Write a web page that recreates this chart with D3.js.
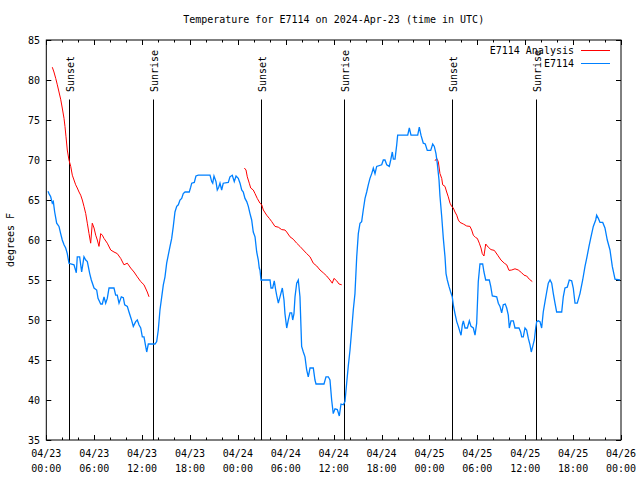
<!DOCTYPE html>
<html><head><meta charset="utf-8">
<script src="https://cdn.jsdelivr.net/npm/d3@7"></script>
<style>
html,body{margin:0;padding:0;background:#fff;}
svg text{font-family:"DejaVu Sans Mono","Liberation Mono",monospace;font-size:10px;fill:#000;}
</style></head><body>
<svg id="c" width="640" height="480"></svg>
<script>
// ---- data (hours after 2024-04-23 00:00 UTC, degrees F) ----
const title = "Temperature for E7114 on 2024-Apr-23 (time in UTC)";
const yTicks = [35,40,45,50,55,60,65,70,75,80,85];
const obsHours = [0.21,0.34,0.55,0.75,0.88,1.05,1.30,1.59,1.80,2.00,2.22,2.43,2.63,2.84,3.06,3.47,3.76,3.88,4.18,4.43,4.72,4.94,5.14,5.44,5.64,5.98,6.31,6.48,6.82,7.02,7.23,7.44,7.64,7.86,8.48,8.69,8.89,9.11,9.40,9.65,9.82,10.15,10.36,10.65,10.90,11.20,11.40,11.61,11.83,12.03,12.24,12.45,12.58,12.78,13.62,13.83,14.03,14.24,14.46,14.66,14.87,15.08,15.28,15.50,15.71,15.91,16.12,16.34,16.54,16.75,16.96,17.16,17.38,17.91,18.09,18.22,18.54,18.75,19.04,20.51,20.72,20.85,21.01,21.26,21.42,21.60,21.76,21.97,22.17,22.80,23.01,23.30,23.55,23.77,24.05,24.27,24.48,24.68,24.89,25.11,25.31,25.52,25.73,25.93,26.15,26.36,26.56,26.68,26.77,26.90,28.03,28.15,28.36,28.56,28.74,28.86,29.07,29.28,29.57,29.78,29.90,30.12,30.32,30.53,30.74,30.87,31.03,31.16,31.37,31.57,31.78,31.99,32.20,32.41,32.62,32.82,33.04,33.45,33.66,33.79,34.79,35.04,35.33,35.54,35.75,35.95,36.17,36.46,36.71,36.92,37.21,37.42,37.63,37.83,38.05,38.26,38.46,38.67,38.89,39.09,39.30,39.51,39.71,39.93,40.14,40.34,40.55,40.77,40.97,41.18,41.39,42.02,42.22,42.43,42.65,42.97,43.15,43.35,43.48,43.69,43.90,44.02,45.28,45.48,45.69,46.53,46.73,46.94,47.23,47.48,47.73,48.16,48.41,48.61,48.82,48.98,49.20,49.32,49.54,49.74,49.95,50.08,50.24,50.45,50.66,50.86,50.99,51.20,51.42,51.62,51.83,51.96,52.12,52.25,52.46,52.75,53.00,53.21,53.50,53.71,53.92,54.12,54.33,54.67,54.83,55.05,55.50,55.68,55.88,56.43,56.63,56.84,57.05,57.25,57.50,57.68,57.88,58.01,58.22,58.51,58.72,59.22,59.43,59.56,59.76,59.97,60.18,60.39,60.60,60.76,60.94,61.14,61.31,61.44,61.64,61.85,62.06,62.26,62.48,62.69,62.89,63.11,63.32,63.52,63.73,63.94,64.14,64.57,64.77,64.98,65.27,65.52,65.82,66.02,66.24,66.52,66.86,67.20,67.49,67.70,67.99,68.20,68.53,68.83,68.95,69.16,69.37,69.71,69.99,70.28,70.62,70.91,71.25,71.87];
const obsTemps = [66.1,65.8,65.4,64.6,64.8,63.5,62.1,61.7,60.8,60.0,59.4,59.0,58.3,57.1,57.0,56.9,55.9,57.9,57.9,56.0,57.9,57.5,57.3,55.8,55.0,54.0,53.75,52.7,52.0,52.0,52.9,52.1,52.7,54.0,54.0,53.1,53.1,52.1,52.9,52.8,51.9,51.7,51.0,50.1,49.2,49.8,50.0,49.4,49.0,47.9,47.9,46.7,46.0,47.0,47.0,47.3,48.75,51.25,52.9,54.4,55.4,57.1,58.1,59.2,60.2,61.7,63.5,64.2,64.4,65.0,65.2,65.8,66.0,66.0,66.6,67.1,67.2,68.0,68.1,68.1,67.3,67.1,68.0,67.3,66.25,66.6,67.1,66.25,67.1,67.2,67.9,68.1,67.3,68.0,67.7,67.1,66.25,66.0,65.2,64.8,64.2,63.3,62.5,61.0,60.4,58.5,57.5,56.5,56.25,55.0,55.0,54.0,54.0,54.9,53.75,53.1,52.1,52.9,54.0,52.5,50.8,49.0,50.0,50.9,50.9,50.0,50.8,52.9,54.6,55.0,52.9,46.7,46.0,45.4,43.75,42.9,44.0,44.0,42.5,42.0,42.0,42.9,42.9,42.5,40.0,38.3,38.9,38.8,38.0,39.5,39.4,39.8,42.1,44.2,46.25,48.75,51.25,53.3,57.9,60.8,62.1,62.3,63.75,65.2,66.0,66.9,67.7,68.3,69.0,68.3,69.2,69.4,70.0,70.0,69.4,69.2,70.0,71.0,70.1,70.1,71.9,73.1,73.1,74.0,73.1,73.1,74.1,73.1,72.1,72.0,71.2,71.2,72.0,71.7,70.8,69.6,67.5,65.5,62.9,60.2,57.9,55.8,55.0,54.2,53.5,52.9,51.9,50.8,49.8,49.2,48.5,48.1,49.4,49.9,49.0,49.0,49.9,49.2,49.0,48.1,49.6,54.8,57.0,57.0,56.0,55.0,55.0,54.2,53.0,52.9,52.1,51.7,50.9,51.9,52.0,51.5,50.6,49.0,49.9,49.9,49.0,49.0,48.5,47.9,47.9,49.0,48.75,47.7,46.9,46.0,46.7,47.5,49.0,49.8,49.9,49.8,49.0,51.0,52.3,53.5,54.6,55.0,54.6,53.3,52.1,51.0,51.0,51.0,52.9,54.0,54.1,55.0,54.9,54.0,52.1,52.1,53.3,55.0,56.7,57.7,59.2,60.2,61.7,62.5,63.1,62.7,62.2,62.2,61.5,60.0,58.75,56.7,55.1,55.0];
const ana1Hours = [0.75,0.96,1.18,1.38,1.59,1.80,2.00,2.22,2.34,2.47,2.63,2.84,3.06,3.26,3.47,3.68,3.88,4.10,4.31,4.51,4.72,4.94,5.14,5.35,5.56,5.76,5.98,6.19,6.39,6.60,6.82,7.02,7.23,7.64,8.07,8.48,8.89,9.32,9.73,10.15,10.57,10.99,11.40,11.83,12.24,12.65,12.87];
const ana1Temps = [81.6,81.0,80.2,79.4,78.5,77.6,76.5,75.2,74.2,72.9,71.25,70.0,69.2,68.1,67.5,66.9,66.5,66.0,65.6,65.0,64.2,63.3,62.1,60.8,59.6,62.1,61.5,60.6,60.0,59.2,60.8,60.6,60.2,59.6,58.75,58.5,58.3,57.7,56.9,57.1,56.5,56.0,55.4,54.8,54.4,53.5,52.9];
const ana2Hours = [24.81,25.02,25.18,25.43,25.61,25.93,26.15,26.43,26.77,26.99,27.19,27.61,27.94,28.24,28.65,29.07,29.49,29.90,30.12,30.53,30.94,31.37,31.78,32.20,32.62,33.04,33.45,33.88,34.29,34.70,35.13,35.54,35.83,36.04,36.38,36.67,37.01];
const ana2Temps = [69.0,68.75,67.9,67.1,66.5,66.25,65.8,65.2,64.6,64.4,63.75,63.1,62.7,62.3,61.7,61.6,61.3,61.25,61.0,60.4,60.1,59.6,59.2,58.75,58.3,57.9,57.1,56.75,56.25,55.9,55.5,55.0,54.6,55.2,54.9,54.5,54.4];
const ana3Hours = [48.70,48.91,49.11,49.32,49.54,49.66,49.95,50.16,50.36,50.58,50.79,50.99,51.20,51.42,51.62,51.83,52.25,52.67,53.08,53.29,53.50,53.80,54.00,54.25,54.46,54.62,54.83,55.05,55.37,55.71,56.13,56.55,56.96,57.38,57.68,57.97,58.31,58.72,59.13,59.56,59.85,60.18,60.51,60.89];
const ana3Temps = [69.9,70.2,69.8,68.3,67.7,66.9,66.7,66.0,65.4,64.6,64.2,64.0,63.5,63.1,62.5,62.2,62.0,61.75,61.7,61.25,60.6,60.3,60.2,59.6,59.0,58.3,58.0,59.5,59.1,58.8,58.7,58.1,57.5,57.1,56.9,56.2,56.25,56.4,56.25,55.9,55.6,55.5,55.1,54.8];
const sunHours = [2.88,13.41,26.93,37.33,50.86,61.39];
const sunLabels = ["Sunset","Sunrise","Sunset","Sunrise","Sunset","Sunrise"];
const seriesNames = ["E7114 Analysis","E7114"];
const seriesColors = ["#ff0000","#0080ff"];

// ---- layout ----
const L=46.3, R=621, T=40, B=440;
const t0 = Date.UTC(2024,3,23,0,0);
const toDate = h => new Date(t0 + h*3600e3);
const x = d3.scaleUtc().domain([toDate(0), toDate(72)]).range([L,R]);
const y = d3.scaleLinear().domain([35,85]).range([B,T]);
const svg = d3.select("#c");

// title
svg.append("text").attr("x",(L+R)/2).attr("y",23).attr("text-anchor","middle").text(title);

// frame
svg.append("rect").attr("x",L).attr("y",T).attr("width",R-L).attr("height",B-T)
  .attr("fill","none").attr("stroke","#000").attr("stroke-width",1);

// x ticks
const major = d3.utcHour.every(6).range(toDate(0), toDate(72.01));
const minor = d3.utcHour.every(2).range(toDate(0), toDate(72.01));
const g = svg.append("g").attr("stroke","#000").attr("stroke-width",1);
minor.forEach(d=>{
  const xx=Math.round(x(d))+0.5;
  const len = (d.getUTCHours()%6===0)?5:2.5;
  g.append("line").attr("x1",xx).attr("x2",xx).attr("y1",B).attr("y2",B-len);
  g.append("line").attr("x1",xx).attr("x2",xx).attr("y1",T).attr("y2",T+len);
});
const fmtD = d3.utcFormat("%m/%d"), fmtT = d3.utcFormat("%H:%M");
major.forEach(d=>{
  const xx=x(d);
  svg.append("text").attr("x",xx).attr("y",457).attr("text-anchor","middle").text(fmtD(d));
  svg.append("text").attr("x",xx).attr("y",472).attr("text-anchor","middle").text(fmtT(d));
});
// y ticks
yTicks.forEach(v=>{
  const yy=Math.round(y(v))+0.5;
  g.append("line").attr("x1",L).attr("x2",L+5).attr("y1",yy).attr("y2",yy);
  g.append("line").attr("x1",R).attr("x2",R-5).attr("y1",yy).attr("y2",yy);
  svg.append("text").attr("x",40).attr("y",y(v)+4).attr("text-anchor","end").text(v);
});
// y label
svg.append("text").attr("transform","translate(14,240) rotate(-90)").attr("text-anchor","middle").text("degrees F");

// sun lines
sunHours.forEach((h,i)=>{
  const xx=Math.round(x(toDate(h)))+0.5;
  svg.append("line").attr("x1",xx).attr("x2",xx).attr("y1",99.5).attr("y2",B)
    .attr("stroke","#000").attr("stroke-width",1);
  svg.append("text").attr("transform",`translate(${xx+4.5},92) rotate(-90)`)
    .attr("text-anchor","start").text(sunLabels[i]);
});

// series
const line = d3.line().x(d=>x(toDate(d[0]))).y(d=>y(d[1]));
const zip = (a,b)=>a.map((h,i)=>[h,b[i]]);
[[ana1Hours,ana1Temps],[ana2Hours,ana2Temps],[ana3Hours,ana3Temps]].forEach(([h,v])=>{
  svg.append("path").attr("d",line(zip(h,v))).attr("fill","none")
    .attr("stroke",seriesColors[0]).attr("stroke-width",1);
});
svg.append("path").attr("d",line(zip(obsHours,obsTemps))).attr("fill","none")
  .attr("stroke",seriesColors[1]).attr("stroke-width",1.3);

// legend
seriesNames.forEach((n,i)=>{
  const yy = 50 + i*13;
  svg.append("text").attr("x",574).attr("y",yy+4).attr("text-anchor","end").text(n);
  svg.append("line").attr("x1",581).attr("x2",610).attr("y1",yy+0.5).attr("y2",yy+0.5)
    .attr("stroke",seriesColors[i]).attr("stroke-width",1);
});
</script></body></html>
